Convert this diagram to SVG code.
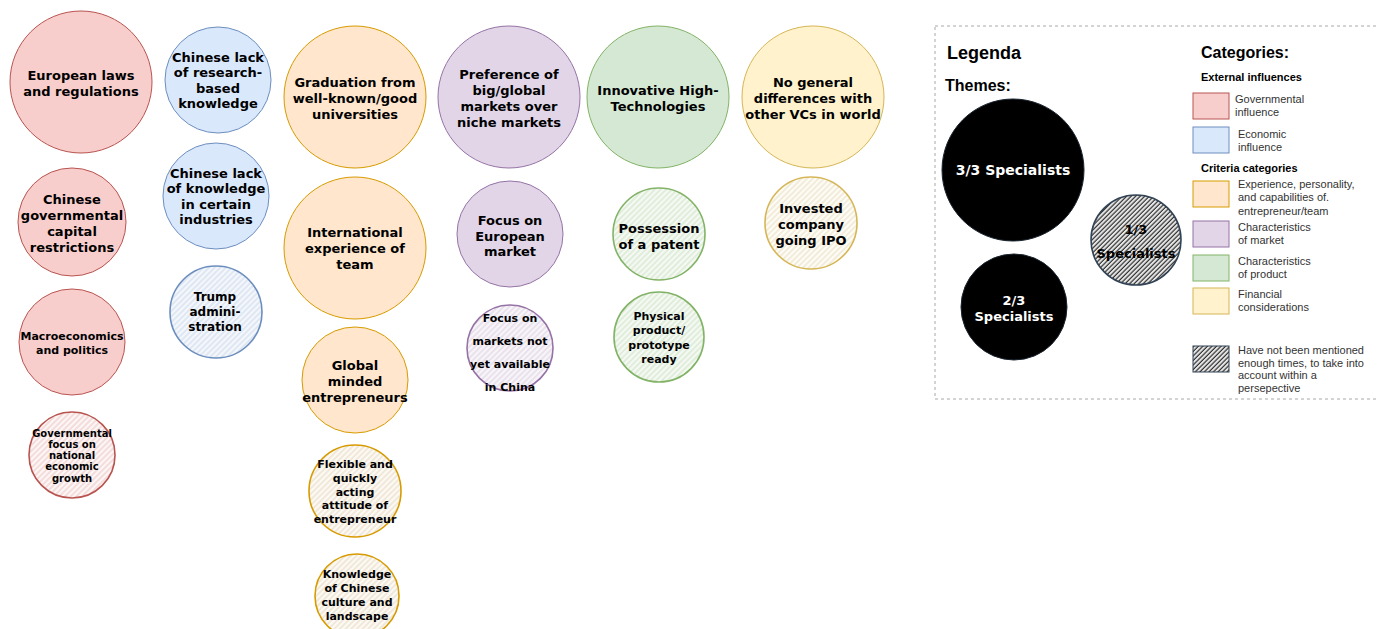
<svg xmlns="http://www.w3.org/2000/svg" width="1378" height="629" viewBox="0 0 1378 629">
  <style>
    .t { font-family: "DejaVu Sans", Verdana, sans-serif; font-weight: bold; text-anchor: middle; fill: #000; }
    .f13 { font-size: 13px; }
    .f12 { font-size: 12px; }
    .f11 { font-size: 11px; }
    .f10 { font-size: 10px; }
    .red { fill: #f8cecc; stroke: #b85450; stroke-width: 1; }
    .blue { fill: #dae8fc; stroke: #6c8ebf; stroke-width: 1; }
    .orange { fill: #ffe6cc; stroke: #d79b00; stroke-width: 1; }
    .purple { fill: #e1d5e7; stroke: #9673a6; stroke-width: 1; }
    .green { fill: #d5e8d4; stroke: #82b366; stroke-width: 1; }
    .yellow { fill: #fff2cc; stroke: #d6b656; stroke-width: 1; }
    .sk { stroke-width: 1.6; }
    .hr { fill: url(#h-red); }
    .hb { fill: url(#h-blue); }
    .ho { fill: url(#h-orange); }
    .hp { fill: url(#h-purple); }
    .hg { fill: url(#h-green); }
    .hy { fill: url(#h-yellow); }
    .hd { fill: url(#h-dark); stroke: #314354; }
    .lg { font-family: "Liberation Sans", Arial, sans-serif; fill: #000; }
    .li { font-family: "Liberation Sans", Arial, sans-serif; font-size: 11px; fill: #333; }
  </style>
  <defs>
    <pattern id="h-red" width="4" height="4" patternUnits="userSpaceOnUse" patternTransform="rotate(45)">
      <rect width="4" height="4" fill="#fdf6f5"/>
      <line x1="1" y1="0" x2="1" y2="4" stroke="#b85450" stroke-opacity="0.3" stroke-width="1"/>
    </pattern>
    <pattern id="h-blue" width="4" height="4" patternUnits="userSpaceOnUse" patternTransform="rotate(45)">
      <rect width="4" height="4" fill="#f4f7fc"/>
      <line x1="1" y1="0" x2="1" y2="4" stroke="#6c8ebf" stroke-opacity="0.3" stroke-width="1"/>
    </pattern>
    <pattern id="h-orange" width="4" height="4" patternUnits="userSpaceOnUse" patternTransform="rotate(45)">
      <rect width="4" height="4" fill="#fdf9f3"/>
      <line x1="1" y1="0" x2="1" y2="4" stroke="#b89a6a" stroke-opacity="0.35" stroke-width="1"/>
    </pattern>
    <pattern id="h-purple" width="4" height="4" patternUnits="userSpaceOnUse" patternTransform="rotate(45)">
      <rect width="4" height="4" fill="#f8f5f9"/>
      <line x1="1" y1="0" x2="1" y2="4" stroke="#9673a6" stroke-opacity="0.3" stroke-width="1"/>
    </pattern>
    <pattern id="h-green" width="4" height="4" patternUnits="userSpaceOnUse" patternTransform="rotate(45)">
      <rect width="4" height="4" fill="#f5f9f4"/>
      <line x1="1" y1="0" x2="1" y2="4" stroke="#82b366" stroke-opacity="0.35" stroke-width="1"/>
    </pattern>
    <pattern id="h-yellow" width="4" height="4" patternUnits="userSpaceOnUse" patternTransform="rotate(45)">
      <rect width="4" height="4" fill="#fefcf5"/>
      <line x1="1" y1="0" x2="1" y2="4" stroke="#b8a060" stroke-opacity="0.35" stroke-width="1"/>
    </pattern>
    <pattern id="h-dark" width="3.2" height="3.2" patternUnits="userSpaceOnUse" patternTransform="rotate(45)">
      <rect width="3.2" height="3.2" fill="#e6e6e6"/>
      <line x1="1" y1="0" x2="1" y2="3.2" stroke="#222" stroke-width="1.1"/>
    </pattern>
  </defs>

  <rect width="1378" height="629" fill="#fff"/>

  <!-- external influences: governmental -->
  <g id="european-laws">
    <circle class="red" cx="81" cy="82" r="71"/>
    <text class="t f13"><tspan x="81" y="79.5">European laws</tspan><tspan x="81" y="95.5">and regulations</tspan></text>
  </g>
  <g id="chinese-capital-restrictions">
    <circle class="red" cx="72" cy="222" r="54"/>
    <text class="t f13"><tspan x="72" y="203.5">Chinese</tspan><tspan x="72" y="219.5">governmental</tspan><tspan x="72" y="235.5">capital</tspan><tspan x="72" y="251.5">restrictions</tspan></text>
  </g>
  <g id="macroeconomics">
    <circle class="red" cx="72" cy="342" r="53"/>
    <text class="t f11"><tspan x="72" y="340">Macroeconomics</tspan><tspan x="72" y="354">and politics</tspan></text>
  </g>
  <g id="governmental-focus">
    <circle class="red sk hr" cx="72" cy="455" r="43"/>
    <text class="t f10"><tspan x="72" y="436.5">Governmental</tspan><tspan x="72" y="447.8">focus on</tspan><tspan x="72" y="459.1">national</tspan><tspan x="72" y="470.4">economic</tspan><tspan x="72" y="481.7">growth</tspan></text>
  </g>

  <!-- external influences: economic -->
  <g id="lack-research-knowledge">
    <circle class="blue" cx="218" cy="80" r="53"/>
    <text class="t f13"><tspan x="218" y="61.5">Chinese lack</tspan><tspan x="218" y="77.1">of research-</tspan><tspan x="218" y="92.7">based</tspan><tspan x="218" y="108.3">knowledge</tspan></text>
  </g>
  <g id="lack-industry-knowledge">
    <circle class="blue" cx="216" cy="196" r="53"/>
    <text class="t f13"><tspan x="216" y="177.5">Chinese lack</tspan><tspan x="216" y="193.1">of knowledge</tspan><tspan x="216" y="208.7">in certain</tspan><tspan x="216" y="224.3">industries</tspan></text>
  </g>
  <g id="trump-administration">
    <circle class="blue sk hb" cx="216" cy="312" r="46"/>
    <text class="t f12"><tspan x="215" y="301">Trump</tspan><tspan x="215" y="316">admini-</tspan><tspan x="215" y="331">stration</tspan></text>
  </g>

  <!-- entrepreneur / team -->
  <g id="graduation">
    <circle class="orange" cx="355" cy="97" r="71"/>
    <text class="t f13"><tspan x="355" y="86.5">Graduation from</tspan><tspan x="355" y="102.5">well-known/good</tspan><tspan x="355" y="118.5">universities</tspan></text>
  </g>
  <g id="international-experience">
    <circle class="orange" cx="355" cy="248" r="71"/>
    <text class="t f13"><tspan x="355" y="236.5">International</tspan><tspan x="355" y="252.5">experience of</tspan><tspan x="355" y="268.5">team</tspan></text>
  </g>
  <g id="global-minded">
    <circle class="orange" cx="355" cy="380" r="53"/>
    <text class="t f13"><tspan x="355" y="369.5">Global</tspan><tspan x="355" y="385.5">minded</tspan><tspan x="355" y="401.5">entrepreneurs</tspan></text>
  </g>
  <g id="flexible-attitude">
    <circle class="orange sk ho" cx="355" cy="491" r="46"/>
    <text class="t f11"><tspan x="355" y="468">Flexible and</tspan><tspan x="355" y="481.8">quickly</tspan><tspan x="355" y="495.6">acting</tspan><tspan x="355" y="509.4">attitude of</tspan><tspan x="355" y="523.2">entrepreneur</tspan></text>
  </g>
  <g id="chinese-culture">
    <circle class="orange sk ho" cx="357" cy="596" r="42"/>
    <text class="t f11"><tspan x="357" y="578">Knowledge</tspan><tspan x="357" y="592">of Chinese</tspan><tspan x="357" y="606">culture and</tspan><tspan x="357" y="620">landscape</tspan></text>
  </g>

  <!-- market -->
  <g id="global-markets">
    <circle class="purple" cx="509" cy="97" r="71"/>
    <text class="t f13"><tspan x="509" y="78.5">Preference of</tspan><tspan x="509" y="94.5">big/global</tspan><tspan x="509" y="110.5">markets over</tspan><tspan x="509" y="126.5">niche markets</tspan></text>
  </g>
  <g id="european-market">
    <circle class="purple" cx="510" cy="234" r="53"/>
    <text class="t f13"><tspan x="510" y="224.5">Focus on</tspan><tspan x="510" y="240.5">European</tspan><tspan x="510" y="256">market</tspan></text>
  </g>
  <g id="markets-not-in-china">
    <circle class="purple sk hp" cx="510" cy="348" r="43"/>
    <text class="t f11"><tspan x="510" y="322">Focus on</tspan><tspan x="510" y="345">markets not</tspan><tspan x="510" y="368">yet available</tspan><tspan x="510" y="391">in China</tspan></text>
  </g>

  <!-- product -->
  <g id="high-tech">
    <circle class="green" cx="658" cy="97" r="71"/>
    <text class="t f13"><tspan x="658" y="94.5">Innovative High-</tspan><tspan x="658" y="111">Technologies</tspan></text>
  </g>
  <g id="patent">
    <circle class="green sk hg" cx="659" cy="234" r="46"/>
    <text class="t f13"><tspan x="659" y="232.5">Possession</tspan><tspan x="659" y="248.5">of a patent</tspan></text>
  </g>
  <g id="prototype">
    <circle class="green sk hg" cx="659" cy="337" r="45"/>
    <text class="t f11"><tspan x="659" y="320">Physical</tspan><tspan x="659" y="334.3">product/</tspan><tspan x="659" y="348.6">prototype</tspan><tspan x="659" y="362.9">ready</tspan></text>
  </g>

  <!-- financial -->
  <g id="no-differences">
    <circle class="yellow" cx="813" cy="97" r="71"/>
    <text class="t f13"><tspan x="813" y="86.5">No general</tspan><tspan x="813" y="102.5">differences with</tspan><tspan x="813" y="118.5">other VCs in world</tspan></text>
  </g>
  <g id="ipo">
    <circle class="yellow sk hy" cx="811" cy="223" r="46"/>
    <text class="t f13"><tspan x="811" y="212.5">Invested</tspan><tspan x="811" y="228.5">company</tspan><tspan x="811" y="244.5">going IPO</tspan></text>
  </g>

  <!-- connectors (none drawn) -->
  <g id="connectors"/>

  <!-- legend -->
  <g id="legend">
    <rect x="935" y="26" width="460" height="373" fill="none" stroke="#a8a8a8" stroke-width="1" stroke-dasharray="3 3"/>
    <text class="lg" x="947" y="59" font-size="18" font-weight="bold">Legenda</text>
    <text class="lg" x="945" y="91" font-size="16" font-weight="bold">Themes:</text>

    <g id="theme-3of3">
      <circle cx="1013" cy="170" r="71" fill="#000" stroke="#1a2530" stroke-width="1"/>
      <text class="t" x="1013" y="175" font-size="14" style="fill:#fff">3/3 Specialists</text>
    </g>
    <g id="theme-2of3">
      <circle cx="1014" cy="307" r="53" fill="#000" stroke="#1a2530" stroke-width="1"/>
      <text class="t f13" style="fill:#fff"><tspan x="1014" y="304.5">2/3</tspan><tspan x="1014" y="320.5">Specialists</tspan></text>
    </g>
    <g id="theme-1of3">
      <circle class="hd" cx="1136" cy="240" r="45" stroke-width="1.6"/>
      <text class="t f13"><tspan x="1136" y="233.5">1/3</tspan><tspan x="1136" y="257.5">Specialists</tspan></text>
    </g>

    <text class="lg" x="1201" y="58" font-size="16" font-weight="bold">Categories:</text>
    <text class="lg" x="1201" y="81" font-size="11" font-weight="bold">External influences</text>

    <rect class="red" x="1193" y="93" width="36" height="26"/>
    <text class="li"><tspan x="1235" y="103">Governmental</tspan><tspan x="1235" y="116">influence</tspan></text>

    <rect class="blue" x="1193" y="127" width="36" height="26"/>
    <text class="li"><tspan x="1238" y="138">Economic</tspan><tspan x="1238" y="151">influence</tspan></text>

    <text class="lg" x="1201" y="172" font-size="11" font-weight="bold">Criteria categories</text>

    <rect class="orange" x="1193" y="181" width="36" height="26"/>
    <text class="li"><tspan x="1238" y="188">Experience, personality,</tspan><tspan x="1238" y="201">and capabilities of.</tspan><tspan x="1238" y="215">entrepreneur/team</tspan></text>

    <rect class="purple" x="1193" y="221" width="36" height="26"/>
    <text class="li"><tspan x="1238" y="231">Characteristics</tspan><tspan x="1238" y="244">of market</tspan></text>

    <rect class="green" x="1193" y="255" width="36" height="26"/>
    <text class="li"><tspan x="1238" y="265">Characteristics</tspan><tspan x="1238" y="278">of product</tspan></text>

    <rect class="yellow" x="1193" y="288" width="36" height="26"/>
    <text class="li"><tspan x="1238" y="298">Financial</tspan><tspan x="1238" y="311">considerations</tspan></text>

    <rect class="hd" x="1193" y="346" width="36" height="26" stroke-width="1"/>
    <text class="li"><tspan x="1238" y="354">Have not been mentioned</tspan><tspan x="1238" y="366.5">enough times, to take into</tspan><tspan x="1238" y="379">account within a</tspan><tspan x="1238" y="391.5">persepective</tspan></text>
  </g>
</svg>
